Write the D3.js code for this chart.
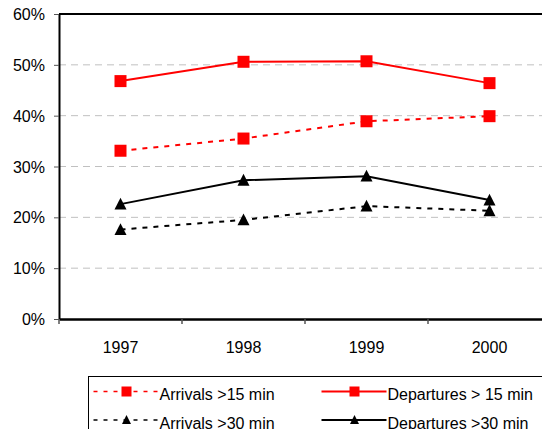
<!DOCTYPE html>
<html>
<head>
<meta charset="utf-8">
<script src="https://cdn.jsdelivr.net/npm/d3@7"></script>
<style>
  body { margin: 0; background: #fff; }
  svg text { font-family: "Liberation Sans", Arial, sans-serif; }
</style>
</head>
<body>
<svg id="chart"></svg>
<script>
// Dữ liệu
const years = ["1997", "1998", "1999", "2000"];
const arrivals15 = [33.1, 35.5, 38.9, 39.9];
const departures15 = [46.8, 50.6, 50.7, 46.4];
const arrivals30 = [17.6, 19.5, 22.2, 21.3];
const departures30 = [22.6, 27.3, 28.1, 23.4];
const yTicks = [0, 10, 20, 30, 40, 50, 60];

const series = [
    { name: "Arrivals >15 min", values: arrivals15, color: "#ff0000", dashed: true, symbol: "square" },
    { name: "Departures > 15 min", values: departures15, color: "#ff0000", dashed: false, symbol: "square" },
    { name: "Arrivals >30 min", values: arrivals30, color: "#000000", dashed: true, symbol: "triangle" },
    { name: "Departures >30 min", values: departures30, color: "#000000", dashed: false, symbol: "triangle" }
];

const width = 542;
const height = 429;
const margin = { top: 14, left: 59 };
const plotW = 492;   // vùng vẽ bị cắt ở bên phải
const plotH = 305;

const svg = d3.select("#chart")
    .attr("width", width)
    .attr("height", height);

const g = svg.append("g")
    .attr("transform", `translate(${margin.left}, ${margin.top})`);

const x = d3.scaleBand()
    .domain(years)
    .range([0, plotW]);

const y = d3.scaleLinear()
    .domain([0, 60])
    .range([plotH, 0]);

// Lưới ngang
g.selectAll(".grid")
    .data(yTicks.filter(d => d > 0 && d < 60))
    .enter()
    .append("line")
    .attr("x1", 0)
    .attr("x2", plotW)
    .attr("y1", d => y(d))
    .attr("y2", d => y(d))
    .attr("stroke", "#c0c0c0")
    .attr("stroke-width", 1)
    .attr("stroke-dasharray", "7,5");

// Viền trên
g.append("line")
    .attr("x1", 0).attr("x2", plotW)
    .attr("y1", 0).attr("y2", 0)
    .attr("stroke", "#000").attr("stroke-width", 2);

// Trục Y
const yAxis = g.append("g")
    .call(d3.axisLeft(y).tickValues(yTicks).tickSize(5).tickSizeOuter(0).tickFormat(d => d + "%"));
yAxis.select(".domain").attr("stroke-width", 2);
yAxis.selectAll(".tick line").attr("stroke", "#555");
yAxis.selectAll("text").style("font-size", "16px").attr("fill", "#000").attr("x", -14).attr("dy", "0.35em");

// Trục X
const xAxis = g.append("g")
    .attr("transform", `translate(0, ${plotH})`)
    .call(d3.axisBottom(x).tickSize(0).tickSizeOuter(0));
xAxis.select(".domain").attr("stroke-width", 2.5);
xAxis.selectAll("text").style("font-size", "16px").attr("fill", "#000").attr("dy", "0").attr("y", 34);

// Vạch chia trục X giữa các năm
g.selectAll(".xtick")
    .data(years)
    .enter()
    .append("line")
    .attr("x1", d => x(d))
    .attr("x2", d => x(d))
    .attr("y1", plotH)
    .attr("y2", plotH + 5)
    .attr("stroke", "#555")
    .attr("stroke-width", 1.5);

const line = d3.line()
    .x((d, i) => x(years[i]) + x.bandwidth() / 2)
    .y(d => y(d));

function drawMarker(sel, symbol, size, color) {
    if (symbol === "square") {
        sel.append("rect")
            .attr("x", -size / 2).attr("y", -size / 2)
            .attr("width", size).attr("height", size)
            .attr("fill", color);
    } else {
        const h = size * 0.9;
        sel.append("path")
            .attr("d", `M0,${-h / 2 - 1}L${size / 2},${h / 2}L${-size / 2},${h / 2}Z`)
            .attr("fill", color);
    }
}

// Vẽ các đường
series.forEach(s => {
    g.append("path")
        .datum(s.values)
        .attr("fill", "none")
        .attr("stroke", s.color)
        .attr("stroke-width", 2)
        .attr("stroke-dasharray", s.dashed ? "5,6" : null)
        .attr("d", line);

    g.selectAll(null)
        .data(s.values)
        .enter()
        .append("g")
        .attr("transform", (d, i) => `translate(${x(years[i]) + x.bandwidth() / 2}, ${y(d)})`)
        .each(function() {
            drawMarker(d3.select(this), s.symbol, 12, s.color);
        });
});

// Chú thích
const legend = svg.append("g").attr("transform", "translate(88.5, 376.5)");
legend.append("rect")
    .attr("width", 470).attr("height", 70)
    .attr("fill", "none")
    .attr("stroke", "#000").attr("stroke-width", 1);

const legendPos = [
    { x: 5, y: 15 }, { x: 233, y: 15 },
    { x: 5, y: 43.5 }, { x: 233, y: 43.5 }
];
series.forEach((s, i) => {
    const p = legendPos[i];
    const item = legend.append("g").attr("transform", `translate(${p.x}, ${p.y})`);
    item.append("line")
        .attr("x1", 0).attr("x2", 65)
        .attr("stroke", s.color)
        .attr("stroke-width", s.dashed ? 1.5 : 2)
        .attr("stroke-dasharray", s.dashed ? "4,6" : null);
    const m = item.append("g").attr("transform", "translate(33, 0)");
    drawMarker(m, s.symbol, s.symbol === "square" ? 10 : 9, s.color);
    item.append("text")
        .attr("x", 66)
        .attr("y", 8.5)
        .style("font-size", "16px")
        .text(s.name);
});
</script>
</body>
</html>
